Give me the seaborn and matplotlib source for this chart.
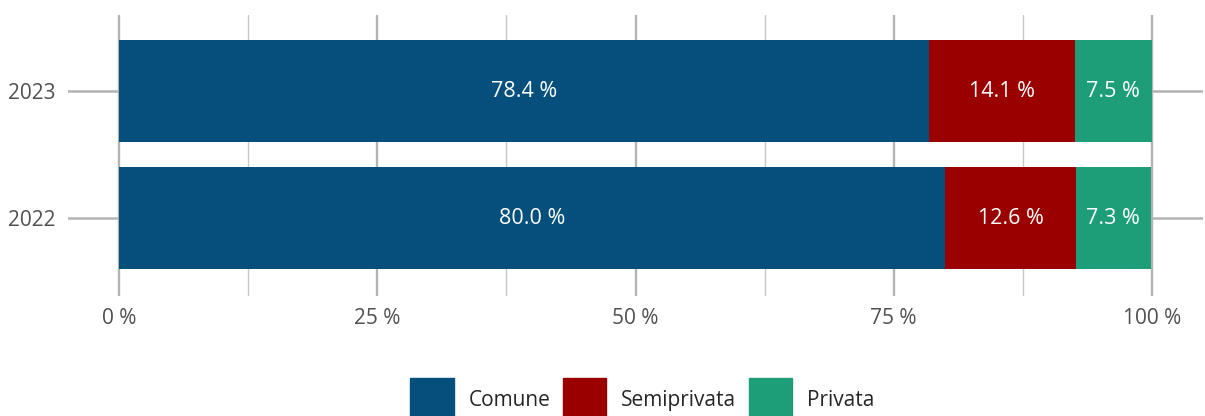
import matplotlib
matplotlib.use("Agg")
import matplotlib.pyplot as plt
import matplotlib.patches as mpatches
from matplotlib.ticker import FuncFormatter
import seaborn as sns
import pandas as pd
import numpy as np

years = ["2023", "2022"]
series = ["Comune", "Semiprivata", "Privata"]
comune = [78.4, 80.0]
semiprivata = [14.1, 12.6]
privata = [7.5, 7.3]
colors = ["#044F7C", "#9A0000", "#1E9E78"]
xticks = [0, 25, 50, 75, 100]

sns.set_theme(style="white")
plt.rcParams["font.family"] = ["Open Sans", "DejaVu Sans"]

vals = np.array([comune, semiprivata, privata])
cum = np.cumsum(vals, axis=0)

fig = plt.figure(figsize=(12.05, 4.16), dpi=100)
ax = fig.add_axes([68 / 1205, 1 - 296 / 416, (1203 - 68) / 1205, (296 - 15) / 416])

# draw cumulative bars from the largest total down so segments appear stacked
for i in reversed(range(len(series))):
    df = pd.DataFrame({"year": years, "value": cum[i]})
    sns.barplot(data=df, x="value", y="year", order=years, orient="h",
                color=colors[i], saturation=1, width=0.8, ax=ax, zorder=3,
                linewidth=0)

for i in range(len(series)):
    for j, yr in enumerate(years):
        center = cum[i][j] - vals[i][j] / 2
        ax.text(center, j, f"{vals[i][j]:.1f} %", ha="center", va="center",
                color="white", fontsize=15.5, zorder=5)

ax.set_xlim(-4.94, 104.94)
ax.set_ylim(1.614, -0.6)
ax.set_xlabel("")
ax.set_ylabel("")
for s in ax.spines.values():
    s.set_visible(False)

# grid lines
for x in np.arange(0, 101, 12.5):
    major = (x % 25 == 0)
    ax.axvline(x, color="#B3B3B3" if major else "#C8C8C8",
               lw=1.7 if major else 1.0, zorder=1)
for j in range(len(years)):
    ax.axhline(j, color="#B3B3B3", lw=1.8, zorder=1)

ax.set_xticks(xticks)
ax.xaxis.set_major_formatter(FuncFormatter(lambda v, p: f"{v:.0f} %"))
ax.tick_params(axis="both", length=0, labelsize=15, labelcolor="#505050")
ax.tick_params(axis="x", pad=9)
ax.tick_params(axis="y", pad=9)

handles = [mpatches.Patch(color=c, label=l) for c, l in zip(colors, series)]
fig.legend(handles=handles, loc="center", bbox_to_anchor=(0.533, 1 - 400 / 416),
           ncol=3, frameon=False, fontsize=15, handlelength=2.07, handleheight=2.8,
           handletextpad=0.72, columnspacing=0.6, borderpad=0)

fig.savefig("out.png", dpi=100)
